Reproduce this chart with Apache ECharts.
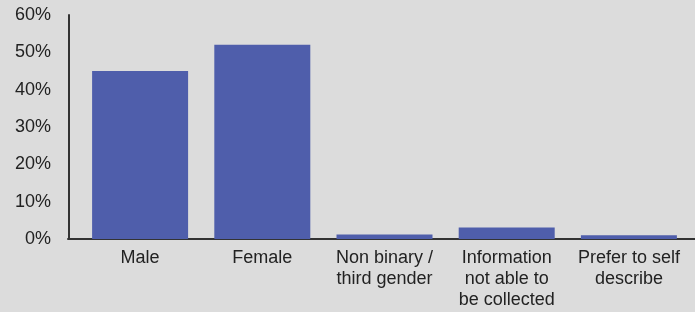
<!DOCTYPE html>
<html>
<head>
<meta charset="utf-8">
<script src="https://cdn.jsdelivr.net/npm/echarts@6/dist/echarts.min.js"></script>
<style>
html,body{margin:0;padding:0;background:#dcdcdc;}
#chart{width:695px;height:312px;}
</style>
</head>
<body>
<div id="chart"></div>
<script>
const categories = ["Male", "Female", "Non binary /\nthird gender", "Information\nnot able to\nbe collected", "Prefer to self\ndescribe"];
const values = [45, 52, 1.2, 3.1, 1];
const yMax = 60;
const yStep = 10;

const chart = echarts.init(document.getElementById('chart'));
const font = "'Liberation Sans', Arial, Helvetica, sans-serif";
chart.setOption({
  backgroundColor: '#dcdcdc',
  animation: false,
  grid: [
    {left: 79, right: 5, top: 15, bottom: 73, containLabel: false},
    {left: 68, right: 0, top: 15, bottom: 73, containLabel: false}
  ],
  xAxis: [
    {
      type: 'category', gridIndex: 0, data: categories,
      axisLine: {show: false}, axisTick: {show: false},
      axisLabel: {interval: 0, fontSize: 18, lineHeight: 21, color: '#222', margin: 9, fontFamily: font}
    },
    {
      type: 'value', gridIndex: 1, min: 0, max: 1,
      axisLine: {show: true, onZero: false, lineStyle: {color: '#333', width: 2}},
      axisTick: {show: false}, axisLabel: {show: false}, splitLine: {show: false}
    }
  ],
  yAxis: [
    {
      type: 'value', gridIndex: 0, min: 0, max: yMax, interval: yStep, offset: 10,
      axisLine: {show: true, lineStyle: {color: '#333', width: 2}},
      axisTick: {show: false}, splitLine: {show: false},
      axisLabel: {formatter: '{value}%', fontSize: 18, color: '#222', margin: 18, fontFamily: font}
    },
    {type: 'value', gridIndex: 1, show: false, min: 0, max: 1}
  ],
  series: [{
    type: 'bar', xAxisIndex: 0, yAxisIndex: 0, data: values, barWidth: 96,
    itemStyle: {color: '#4f5eab'}
  }]
});
</script>
</body>
</html>
